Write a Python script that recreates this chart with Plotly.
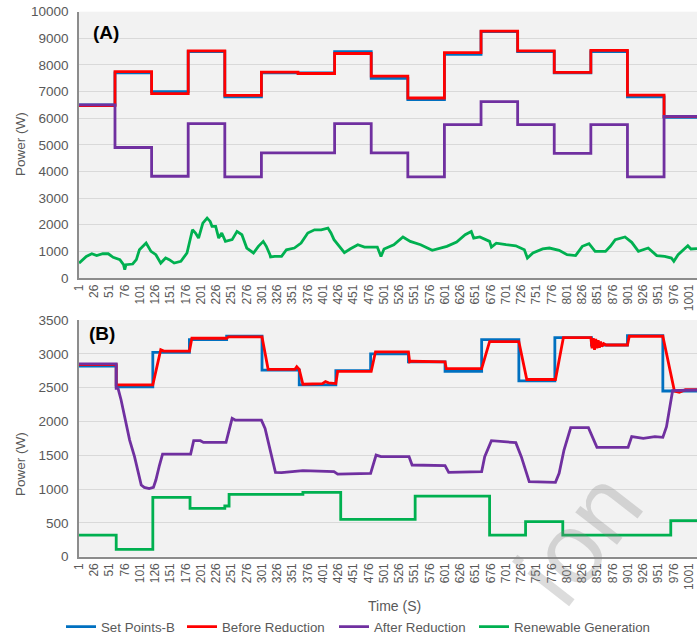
import plotly.graph_objects as go

# ---------------- Panel A data ----------------
a_step_t = [1, 60, 120, 180, 240, 300, 360, 420, 480, 540, 600, 660, 720, 780, 840, 900, 960, 1014]
a_setpoints = [6500, 7700, 7000, 8500, 6800, 7700, 7700, 8500, 7500, 6700, 8400, 9250, 8500, 7700, 8500, 6800, 6030, 6030]
a_before = [6470, 7750, 6920, 8530, 6860, 7730, 7680, 8430, 7580, 6760, 8460, 9270, 8530, 7720, 8550, 6870, 6060, 6060]
a_after = [6500, 4900, 3820, 5800, 3800, 4700, 4700, 5800, 4700, 3800, 5760, 6620, 5760, 4680, 5760, 3800, 6070, 6070]

a_gen_t = [1, 13, 22, 30, 40, 49, 57, 68, 74, 76, 78, 89, 95, 100, 111, 119, 127, 135, 143, 149,
           157, 168, 178, 187, 192, 197, 204, 211, 216, 219, 225, 230, 235, 241, 252, 260, 268, 276,
           287, 295, 303, 308, 314, 315, 322, 333, 341, 354, 365, 376, 387, 398, 409, 414, 419, 430,
           436, 446, 458, 469, 490, 496, 501, 517, 532, 544, 561, 580, 593, 604, 620, 634, 644, 648,
           658, 674, 677, 685, 701, 717, 731, 736, 745, 761, 772, 788, 801, 815, 826, 837, 847, 864,
           872, 880, 896, 907, 918, 934, 948, 961, 972, 976, 983, 999, 1004, 1014]
a_gen = [560, 810, 910, 840, 910, 910, 775, 690, 500, 310, 500, 525, 690, 1060, 1310, 1000, 875, 560, 750, 690,
         560, 625, 940, 1810, 1690, 1500, 2060, 2250, 2125, 1940, 1940, 1500, 1690, 1375, 1440, 1750, 1625, 1125,
         940, 1190, 1375, 1190, 875, 790, 810, 810, 1060, 1125, 1310, 1690, 1810, 1810, 1875, 1690, 1440, 1125,
         950, 1100, 1250, 1160, 1160, 810, 1090, 1250, 1540, 1375, 1250, 1040, 1125, 1190, 1350, 1625, 1750, 1500,
         1540, 1375, 1160, 1310, 1250, 1210, 1060, 750, 940, 1090, 1125, 1040, 875, 840, 1190, 1290, 1000, 1000,
         1190, 1440, 1540, 1340, 1000, 1125, 840, 810, 750, 625, 875, 1210, 1090, 1100]

# ---------------- Panel B data ----------------
b_step_t = [1, 62, 122, 182, 243, 301, 362, 422, 479, 541, 601, 661, 722, 781, 841, 900, 958, 1014]
b_setpoints = [2820, 2510, 3020, 3210, 3260, 2760, 2540, 2750, 3000, 2880, 2740, 3210, 2600, 3240, 3130, 3270, 2450, 2450]

b_before_t = [1, 62, 62, 122, 135, 140, 182, 186, 243, 246, 301, 311, 355, 358, 362, 368, 400, 405, 410, 422,
              425, 480, 487, 541, 543, 546, 601, 603, 661, 674, 722, 735, 782, 795, 840, 842, 844, 846, 848,
              850, 852, 854, 856, 858, 861, 865, 900, 903, 958, 977, 985, 995, 1014]
b_before = [2840, 2840, 2540, 2540, 3060, 3040, 3040, 3230, 3230, 3250, 3250, 2770, 2770, 2810, 2770, 2550, 2560, 2590, 2570, 2560,
            2740, 2740, 3030, 3030, 2880, 2890, 2880, 2780, 2780, 3180, 3180, 2620, 2620, 3240, 3240, 3080, 3230, 3060, 3220,
            3080, 3200, 3090, 3180, 3110, 3150, 3130, 3130, 3260, 3260, 2450, 2430, 2470, 2470]

b_after_t = [1, 62, 62, 65, 70, 76, 84, 92, 97, 103, 108, 116, 123, 127, 133, 138, 184, 189, 200, 205,
             242, 252, 257, 300, 306, 314, 323, 333, 360, 368, 419, 425, 479, 488, 496, 542, 547, 601, 607,
             661, 666, 677, 717, 726, 739, 782, 788, 796, 807, 836, 850, 901, 907, 926, 945, 958, 964, 969,
             974, 1014]
b_after = [2850, 2850, 2490, 2490, 2317, 2070, 1725, 1479, 1282, 1060, 1025, 1006, 1025, 1134, 1356, 1518, 1518, 1715, 1715, 1690,
           1690, 2045, 2020, 2020, 1898, 1577, 1247, 1242, 1257, 1272, 1257, 1222, 1232, 1503, 1479, 1479, 1356, 1346, 1247,
           1257, 1479, 1715, 1686, 1479, 1109, 1099, 1232, 1577, 1908, 1908, 1617, 1617, 1775, 1750, 1775, 1765, 1922, 2169,
           2455, 2465]

b_gen_t = [1, 62, 122, 183, 240, 247, 368, 430, 552, 674, 733, 794, 971, 1014]
b_gen = [320, 108, 877, 715, 750, 922, 951, 552, 897, 320, 518, 320, 532, 532]

# axis ticks
x_ticks = list(range(1, 1002, 25))
x_ticktext = [str(v) for v in x_ticks]

names = ["Set Points-B", "Before Reduction", "After Reduction", "Renewable Generation"]
colors = ["#0070C0", "#FF0000", "#7030A0", "#00B050"]

W, H = 697, 639
FONT = "Liberation Sans, Arial, sans-serif"
GREY = "#595959"
LW = 2.8

fig = go.Figure()

# Panel A
fig.add_trace(go.Scatter(x=a_step_t, y=a_setpoints, mode="lines", line=dict(color=colors[0], width=LW, shape="hv"),
                         xaxis="x", yaxis="y", showlegend=False))
fig.add_trace(go.Scatter(x=a_step_t, y=a_before, mode="lines", line=dict(color=colors[1], width=LW, shape="hv"),
                         xaxis="x", yaxis="y", showlegend=False))
fig.add_trace(go.Scatter(x=a_step_t, y=a_after, mode="lines", line=dict(color=colors[2], width=LW, shape="hv"),
                         xaxis="x", yaxis="y", showlegend=False))
fig.add_trace(go.Scatter(x=a_gen_t, y=a_gen, mode="lines", line=dict(color=colors[3], width=LW),
                         xaxis="x", yaxis="y", showlegend=False))

# Panel B (each series gets its own legend box so the entries sit where the original has them)
fig.add_trace(go.Scatter(x=b_step_t, y=b_setpoints, mode="lines", name=names[0], legend="legend",
                         line=dict(color=colors[0], width=LW, shape="hv"), xaxis="x2", yaxis="y2"))
fig.add_trace(go.Scatter(x=b_before_t, y=b_before, mode="lines", name=names[1], legend="legend2",
                         line=dict(color=colors[1], width=LW), xaxis="x2", yaxis="y2"))
fig.add_trace(go.Scatter(x=b_after_t, y=b_after, mode="lines", name=names[2], legend="legend3",
                         line=dict(color=colors[2], width=LW), xaxis="x2", yaxis="y2"))
fig.add_trace(go.Scatter(x=b_gen_t, y=b_gen, mode="lines", name=names[3], legend="legend4",
                         line=dict(color=colors[3], width=LW, shape="hv"), xaxis="x2", yaxis="y2"))

x_left = 79 / W
xcommon = dict(range=[1, 1014], tickmode="array", tickvals=x_ticks, ticktext=x_ticktext, tickangle=-90,
               tickfont=dict(family=FONT, size=12, color=GREY), showgrid=False, zeroline=False,
               showline=True, linecolor="#8c8c8c", linewidth=1.5, ticks="", domain=[x_left, 1.0],
               automargin=False, ticklabeloverflow="allow")
ycommon = dict(showgrid=True, gridcolor="#d9d9d9", gridwidth=1, zeroline=False, showline=True,
               linecolor="#8c8c8c", linewidth=1.5, ticks="", ticklabelstandoff=6, tickformat="d",
               tickfont=dict(family=FONT, size=13.5, color=GREY), automargin=False)


def legend_at(text_left_px):
    return dict(orientation="h", x=(text_left_px - 40) / W, y=1 - 627 / H, xanchor="left", yanchor="middle",
                font=dict(family=FONT, size=13.3, color=GREY), bgcolor="rgba(0,0,0,0)", itemwidth=30)


fig.update_layout(
    width=W, height=H,
    margin=dict(l=0, r=0, t=0, b=0, pad=0, autoexpand=False),
    paper_bgcolor="white", plot_bgcolor="#f2f2f2",
    font=dict(family=FONT, color=GREY),
    xaxis=dict(anchor="y", **xcommon),
    yaxis=dict(anchor="x", range=[0, 10000], dtick=1000, domain=[1 - 278 / H, 1 - 11.7 / H], **ycommon),
    xaxis2=dict(anchor="y2", **xcommon),
    yaxis2=dict(anchor="x2", range=[0, 3500], dtick=500, domain=[1 - 556.7 / H, 1 - 320 / H], **ycommon),
    legend=legend_at(101),
    legend2=legend_at(222),
    legend3=legend_at(374),
    legend4=legend_at(514),
    showlegend=True,
)

annotations = [
    dict(text="<b>(A)</b>", x=91 / W, y=1 - 32 / H, xref="paper", yref="paper", xanchor="left", yanchor="middle",
         showarrow=False, font=dict(family=FONT, size=19, color="black")),
    dict(text="<b>(B)</b>", x=87 / W, y=1 - 333 / H, xref="paper", yref="paper", xanchor="left", yanchor="middle",
         showarrow=False, font=dict(family=FONT, size=19, color="black")),
    dict(text="Power (W)", x=20 / W, y=1 - 144 / H, xref="paper", yref="paper", xanchor="center", yanchor="middle",
         textangle=-90, showarrow=False, font=dict(family=FONT, size=13.5, color=GREY)),
    dict(text="Power (W)", x=20 / W, y=1 - 464 / H, xref="paper", yref="paper", xanchor="center", yanchor="middle",
         textangle=-90, showarrow=False, font=dict(family=FONT, size=13.5, color=GREY)),
    dict(text="Time (S)", x=394 / W, y=1 - 606 / H, xref="paper", yref="paper", xanchor="center", yanchor="middle",
         showarrow=False, font=dict(family=FONT, size=14, color=GREY)),
    dict(text="ion", x=578 / W, y=1 - 538 / H, xref="paper", yref="paper", xanchor="center", yanchor="middle",
         textangle=-52, showarrow=False, font=dict(family=FONT, size=100, color="rgba(128,128,128,0.28)")),
]
fig.update_layout(annotations=annotations)

fig.write_html("out.html", config={"displayModeBar": False},
               post_script="document.body.style.margin='0px';")
